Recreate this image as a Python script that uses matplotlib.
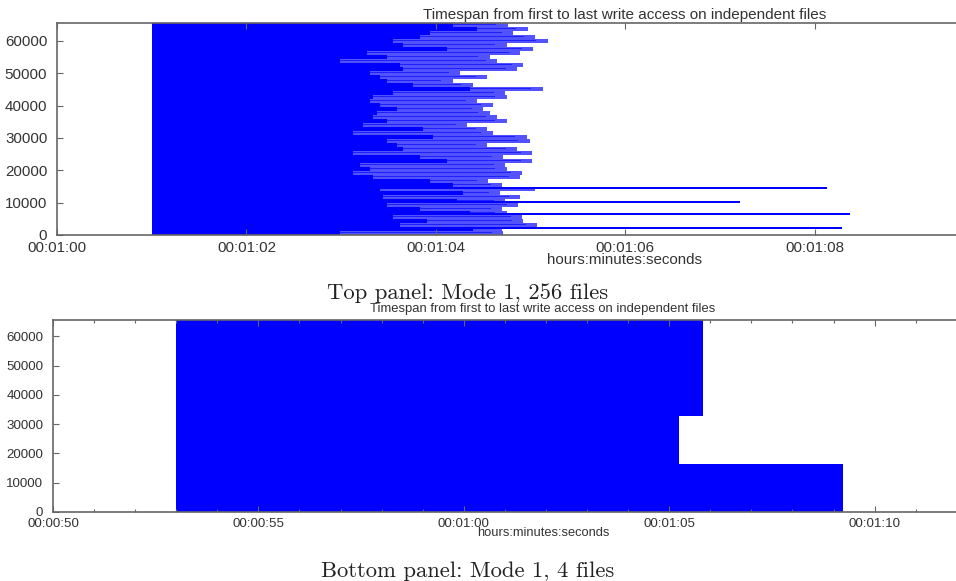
import matplotlib
matplotlib.use("Agg")
import matplotlib.pyplot as plt
import numpy as np
from matplotlib.ticker import MultipleLocator, FuncFormatter

# ---- top run: 256 files, rows grouped into stripes (listed top to bottom) ----
top_first_write = 61.0
top_dark_end = [
    64.18, 64.44, 63.94, 63.83, 63.55, 63.65, 64.12, 63.27, 63.48, 62.99,
    63.62, 63.65, 63.31, 63.41, 63.48, 63.76, 64.36, 63.55, 63.34, 63.31,
    63.41, 63.59, 63.38, 63.34, 63.48, 63.23,
    63.86, 63.13, 63.97, 63.48, 63.59, 63.65, 63.13, 63.83, 64.12, 63.20,
    63.31, 63.13, 63.34, 63.94, 64.18, 63.41, 64.29, 63.44, 64.22, 63.48,
    63.83, 64.36, 63.55, 63.91, 63.62, 64.39, 62.99,
]
top_last_write = [
    64.76, 64.97, 64.82, 65.05, 65.18, 64.75, 65.03, 64.89, 64.57, 64.65,
    64.92, 64.86, 64.26, 64.54, 64.18, 64.39, 65.13, 64.73, 64.75, 64.44,
    64.60, 64.50, 64.57, 64.65, 64.75, 64.33,
    64.54, 64.60, 64.96, 64.99, 64.54, 64.86, 65.02, 64.71, 65.02, 64.73,
    64.75, 64.91, 64.89, 64.55, 64.70, 65.05, 64.68, 64.89, 64.73, 64.87,
    64.70, 64.75, 64.91, 64.92, 65.07, 64.70, 64.71,
]
# a few stragglers that kept writing much longer
straggler_rows = [14530, 10200, 6490, 2160]
straggler_end = [68.13, 67.21, 68.37, 68.29]

# ---- bottom run: 4 files (listed bottom to top) ----
bot_first_write = 53.0
bot_last_write = [69.22, 65.23, 65.82, 65.82]

N_ROWS = 65536
BLUE = "#0000ff"
LIGHT = "#5252ff"
TXT = "#333333"
EDGE = "#666666"

W, H = 956, 581


def fpx(x, y):
    return x / W, 1 - y / H


def hms_upto(vmax):
    # gnuplot-style time labels, skipping ticks that fall off the canvas
    def fmt(v, pos=None):
        if v > vmax:
            return ""
        t = int(round(v))
        return "%02d:%02d:%02d" % (t // 3600, t // 60 % 60, t % 60)
    return FuncFormatter(fmt)


def style_axes(ax, fs, vmax):
    for s in ax.spines.values():
        s.set_color(EDGE)
        s.set_linewidth(1.2)
    ax.tick_params(which="both", direction="in", top=True, right=True,
                   colors=EDGE, labelcolor=TXT, labelsize=fs, width=0.8)
    ax.tick_params(which="major", length=4)
    ax.tick_params(which="minor", length=2.5)
    ax.tick_params(axis="x", pad=4)
    ax.tick_params(axis="y", pad=7)
    ax.xaxis.set_major_formatter(hms_upto(vmax))
    ax.yaxis.set_major_locator(MultipleLocator(10000))
    ax.set_ylim(0, N_ROWS)


plt.rcParams["font.family"] = "Liberation Sans"
fig = plt.figure(figsize=(W / 100, H / 100), dpi=100)

# top panel
ax1 = fig.add_axes([57 / W, 1 - 235 / H, 947 / W, 212 / H])
n = len(top_last_write)
h = N_ROWS / n
yc = N_ROWS - (np.arange(n) + 0.5) * h
dark = np.array(top_dark_end)
last = np.array(top_last_write)
ax1.barh(yc, last - dark, left=dark, height=h * 0.78,
         color=LIGHT, linewidth=0)
ax1.barh(yc + h * 0.2, last - dark - 0.12, left=dark, height=h * 0.3,
         color=BLUE, linewidth=0, alpha=0.6)
ax1.barh(yc, dark - top_first_write, left=top_first_write, height=h,
         color=BLUE, linewidth=0)
ax1.barh(straggler_rows, np.array(straggler_end) - top_first_write,
         left=top_first_write, height=420, color=BLUE, linewidth=0)
ax1.set_xlim(60, 70)
ax1.xaxis.set_major_locator(MultipleLocator(2))
style_axes(ax1, 10.9, 69)

fig.text(*fpx(625, 14.5), "Timespan from first to last write access on independent files",
         ha="center", va="center", fontsize=11, color=TXT)
fig.text(*fpx(624, 260.5), "hours:minutes:seconds",
         ha="center", va="center", fontsize=10.9, color=TXT)

# bottom panel
ax2 = fig.add_axes([53 / W, 1 - 512 / H, 1027 / W, 192 / H])
m = len(bot_last_write)
hb = N_ROWS / m
yb = (np.arange(m) + 0.5) * hb
ax2.barh(yb, np.array(bot_last_write) - bot_first_write, left=bot_first_write,
         height=hb, color=BLUE, linewidth=0)
ax2.set_xlim(50, 75)
ax2.xaxis.set_major_locator(MultipleLocator(5))
ax2.xaxis.set_minor_locator(MultipleLocator(1))
style_axes(ax2, 9.6, 71)

fig.text(*fpx(543, 309), "Timespan from first to last write access on independent files",
         ha="center", va="center", fontsize=9.4, color=TXT)
fig.text(*fpx(543, 533), "hours:minutes:seconds",
         ha="center", va="center", fontsize=9.3, color=TXT)

# captions
cap = dict(ha="center", va="baseline", fontsize=16.3, color="#222222",
           family=["cmr10", "DejaVu Serif"])
fig.text(*fpx(468, 300), "Top panel: Mode 1, 256 files", **cap)
fig.text(*fpx(468, 577), "Bottom panel: Mode 1, 4 files", **cap)

fig.savefig("out.png", dpi=100)
